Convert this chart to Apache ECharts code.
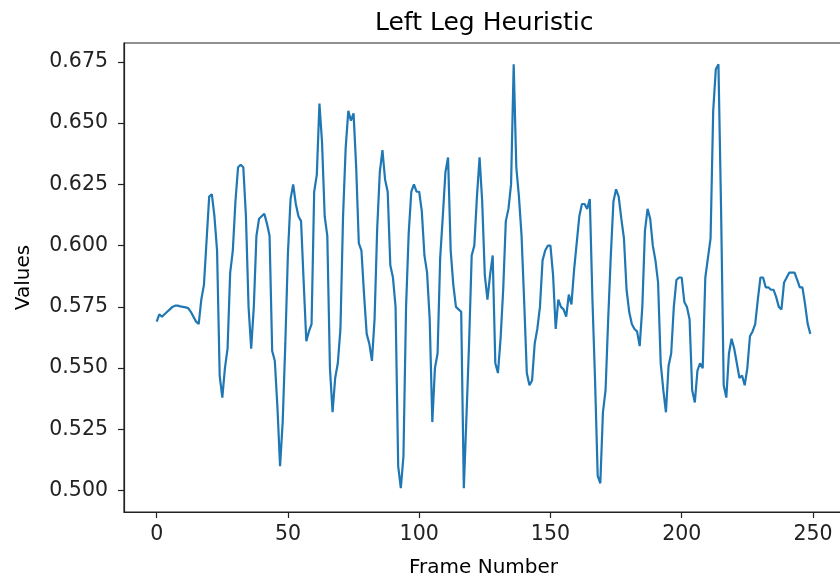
<!DOCTYPE html>
<html>
<head>
<meta charset="utf-8">
<title>Left Leg Heuristic</title>
<script src="https://cdn.jsdelivr.net/npm/echarts@6/dist/echarts.min.js"></script>
<style>
  html, body { margin: 0; padding: 0; background: #fff; }
  #chart { width: 840px; height: 582px; }
</style>
</head>
<body>
<div id="chart"></div>
<script>
// values, one per frame (0..249)
var heuristicValues = [
  0.569, 0.572, 0.571, 0.572, 0.573, 0.574, 0.575, 0.5755, 0.5755, 0.5752,
  0.575, 0.5748, 0.5745, 0.573, 0.571, 0.569, 0.568, 0.578, 0.584, 0.602,
  0.620, 0.621, 0.612, 0.598, 0.547, 0.538, 0.550, 0.558, 0.589, 0.598,
  0.618, 0.632, 0.633, 0.632, 0.612, 0.575, 0.558, 0.575, 0.604, 0.611,
  0.612, 0.613, 0.609, 0.604, 0.557, 0.553, 0.534, 0.510, 0.528, 0.560,
  0.597, 0.619, 0.625, 0.617, 0.612, 0.610, 0.585, 0.561, 0.565, 0.568,
  0.622, 0.629, 0.658, 0.642, 0.612, 0.604, 0.550, 0.532, 0.546, 0.552,
  0.566, 0.612, 0.640, 0.655, 0.651, 0.654, 0.632, 0.601, 0.598, 0.580,
  0.564, 0.560, 0.553, 0.570, 0.607, 0.630, 0.639, 0.627, 0.622, 0.592,
  0.587, 0.575, 0.510, 0.501, 0.514, 0.575, 0.605, 0.622, 0.625, 0.622,
  0.622, 0.614, 0.596, 0.589, 0.570, 0.528, 0.550, 0.556, 0.595, 0.612,
  0.630, 0.636, 0.598, 0.584, 0.575, 0.574, 0.573, 0.501, 0.530, 0.560,
  0.596, 0.600, 0.620, 0.636, 0.618, 0.588, 0.578, 0.588, 0.596, 0.552,
  0.548, 0.562, 0.582, 0.610, 0.615, 0.625, 0.674, 0.632, 0.620, 0.604,
  0.577, 0.548, 0.543, 0.545, 0.560, 0.566, 0.575, 0.594, 0.598, 0.600,
  0.600, 0.588, 0.566, 0.578, 0.575, 0.574, 0.571, 0.580, 0.576, 0.590,
  0.601, 0.612, 0.617, 0.617, 0.615, 0.619, 0.578, 0.545, 0.506, 0.503,
  0.532, 0.541, 0.570, 0.596, 0.618, 0.623, 0.620, 0.611, 0.603, 0.582,
  0.573, 0.568, 0.566, 0.565, 0.559, 0.575, 0.606, 0.615, 0.611, 0.600,
  0.594, 0.585, 0.552, 0.541, 0.532, 0.551, 0.556, 0.575, 0.586, 0.587,
  0.587, 0.577, 0.575, 0.570, 0.541, 0.536, 0.549, 0.552, 0.550, 0.587,
  0.595, 0.603, 0.655, 0.672, 0.674, 0.615, 0.543, 0.538, 0.556, 0.562,
  0.558, 0.552, 0.546, 0.547, 0.543, 0.550, 0.563, 0.565, 0.568, 0.578,
  0.587, 0.587, 0.583, 0.583, 0.582, 0.582, 0.579, 0.575, 0.574, 0.585,
  0.587, 0.589, 0.589, 0.589, 0.586, 0.583, 0.583, 0.576, 0.568, 0.564
]
var xTicks = [0, 50, 100, 150, 200, 250]
var yTicks = [0.500, 0.525, 0.550, 0.575, 0.600, 0.625, 0.650, 0.675]

var font = 'DejaVu Sans'
var chart = echarts.init(document.getElementById('chart'), null, { renderer: 'canvas' })

// frame number is just the index in the list
var points = heuristicValues.map(function(v, i) {
  return [i, v]
})

chart.setOption({
  animation: false,
  backgroundColor: '#ffffff',
  title: {
    text: 'Left Leg Heuristic',
    left: 370,
    top: 6,
    textStyle: {
      fontFamily: font,
      fontSize: 25,
      fontWeight: 'normal',
      color: '#000'
    }
  },
  // plot box runs a little past the right edge of the picture, like the original
  grid: {
    left: 124,
    top: 43,
    width: 719,
    height: 469,
    outerBoundsMode: 'none',
    containLabel: false,
    show: true,
    borderColor: '#222',
    borderWidth: 1.2
  },
  xAxis: {
    type: 'value',
    min: -12.45,
    max: 261.45,
    name: 'Frame Number',
    nameLocation: 'middle',
    nameGap: 46,
    nameTextStyle: { fontFamily: font, fontSize: 20, color: '#000' },
    axisLine: { show: true, onZero: false, lineStyle: { color: '#222', width: 1.2 } },
    axisTick: {
      show: true,
      inside: false,
      length: 6,
      customValues: xTicks,
      lineStyle: { color: '#222', width: 1.2 }
    },
    axisLabel: {
      customValues: xTicks,
      margin: 12,
      fontFamily: font,
      fontSize: 20.5,
      color: '#222'
    },
    splitLine: { show: false }
  },
  yAxis: {
    type: 'value',
    min: 0.4913,
    max: 0.6827,
    name: 'Values',
    nameLocation: 'middle',
    nameGap: 90,
    nameTextStyle: { fontFamily: font, fontSize: 20, color: '#000' },
    axisLine: { show: true, onZero: false, lineStyle: { color: '#222', width: 1.2 } },
    axisTick: {
      show: true,
      inside: false,
      length: 6,
      customValues: yTicks,
      lineStyle: { color: '#222', width: 1.2 }
    },
    axisLabel: {
      customValues: yTicks,
      margin: 16,
      fontFamily: font,
      fontSize: 20.5,
      color: '#222',
      formatter: function(v) {
        return v.toFixed(3)
      }
    },
    splitLine: { show: false }
  },
  series: [
    {
      name: 'Left Leg Heuristic',
      type: 'line',
      data: points,
      showSymbol: false,
      symbol: 'none',
      smooth: false,
      lineStyle: { color: '#1f77b4', width: 2.2 },
      itemStyle: { color: '#1f77b4' }
    }
  ]
})
</script>
</body>
</html>
